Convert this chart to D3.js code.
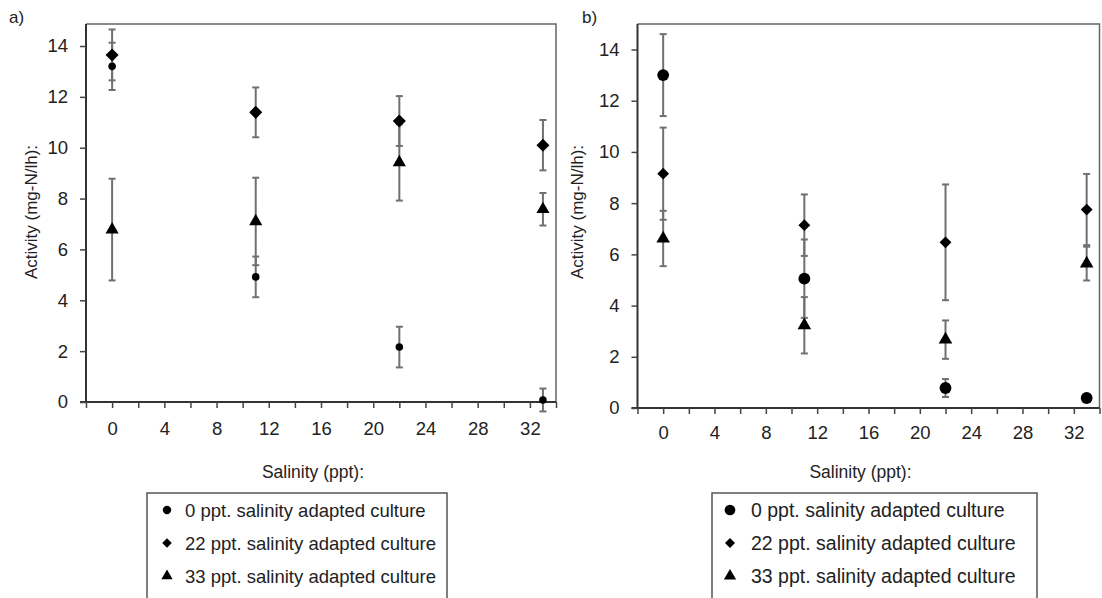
<!DOCTYPE html>
<html>
<head>
<meta charset="utf-8">
<script src="https://cdn.jsdelivr.net/npm/d3@7"></script>
<style>
  body { margin: 0; background: #fff; }
  svg { font-family: "Liberation Sans", Arial, Helvetica, sans-serif; }
</style>
</head>
<body>
<svg id="chart" width="1102" height="598"></svg>
<script>
// Nitrification activity vs salinity, two panels

const salinity = [0, 11, 22, 33];
const seriesNames = [
  "0 ppt. salinity adapted culture",
  "22 ppt. salinity adapted culture",
  "33 ppt. salinity adapted culture"];
const yTicks = [0, 2, 4, 6, 8, 10, 12, 14];

// panel a) means and error (+/-)
const aMean0 = [13.2, 4.92, 2.16, 0.08];
const aErr0 = [0.93, 0.8, 0.8, 0.45];
const aMean22 = [13.65, 11.39, 11.05, 10.1];
const aErr22 = [1.0, 0.98, 0.98, 0.99];
const aMean33 = [6.78, 7.1, 9.42, 7.58];
const aErr33 = [2.0, 1.72, 1.5, 0.64];

// panel b) means and error (+/-)
const bMean0 = [13.0, 5.05, 0.78, 0.39];
const bErr0 = [1.6, 1.53, 0.35, 0.1];
const bMean22 = [9.15, 7.14, 6.47, 7.75];
const bErr22 = [1.8, 1.2, 2.26, 1.39];
const bMean33 = [6.62, 3.23, 2.67, 5.64];
const bErr33 = [1.08, 1.1, 0.75, 0.66];

const svg = d3.select('#chart');

function makeSeries(means, errs) {
  return salinity.map((s, i) => ({x: s, y: means[i], e: errs[i]}));
}

function drawPanel(cfg, series) {
  let x = d3.scaleLinear().domain([-2, 34]).range([cfg.left, cfg.right]);
  let y = d3.scaleLinear().domain([0, 14]).range([cfg.bottom, cfg.y14]);
  let g = svg.append('g');

  // Frame (top and right edges)
  g.append('path')
    .attr('d', `M${cfg.left},${cfg.top}H${cfg.right}V${cfg.bottom}`)
    .attr('fill', 'none').attr('stroke', '#666').attr('stroke-width', 1.5);

  // Y axis
  let yAxis = d3.axisLeft(y).tickValues(yTicks).tickSize(6).tickPadding(12);
  let ya = g.append('g')
    .attr('transform', `translate(${cfg.left},0)`)
    .call(yAxis);
  ya.select('.domain').attr('d', `M-6,${cfg.bottom}H0V${cfg.top}`);

  // X axis, minor ticks every 2, labels every 4
  let xAxis = d3.axisBottom(x)
    .tickValues(d3.range(-2, 35, 2))
    .tickSize(6).tickPadding(cfg.xPad)
    .tickFormat(d => (d >= 0 && d % 4 === 0) ? d : '');
  let xa = g.append('g')
    .attr('transform', `translate(0,${cfg.bottom})`)
    .call(xAxis);
  xa.select('.domain').attr('d', `M${cfg.left},0H${cfg.right}`);

  [ya, xa].forEach(a => {
    a.selectAll('.domain').attr('stroke', '#333').attr('stroke-width', 2);
    a.selectAll('.tick line').attr('stroke', '#444').attr('stroke-width', 1.5);
    a.selectAll('text').attr('font-size', 18.5).attr('fill', '#222')
      .attr('font-family', '"Liberation Sans", Arial, sans-serif');
  });

  // Axis titles
  g.append('text')
    .attr('transform', `translate(${cfg.yTitleX},${cfg.yTitleY}) rotate(-90)`)
    .attr('text-anchor', 'middle').attr('font-size', 17).attr('fill', '#222')
    .text('Activity (mg-N/lh):');
  g.append('text')
    .attr('x', (cfg.left + cfg.right) / 2 - 8).attr('y', 478)
    .attr('text-anchor', 'middle').attr('font-size', 17.5).attr('fill', '#222')
    .text('Salinity (ppt):');
  g.append('text')
    .attr('x', cfg.labelX).attr('y', 23)
    .attr('font-size', 17).attr('fill', '#222')
    .text(cfg.label);

  // Error bars and markers
  series.forEach(s => {
    let eb = g.append('g').selectAll('.err').data(s.data).enter().append('g');
    eb.append('line')
      .attr('x1', d => x(d.x)).attr('x2', d => x(d.x))
      .attr('y1', d => y(d.y - d.e)).attr('y2', d => y(d.y + d.e));
    eb.append('line')
      .attr('x1', d => x(d.x) - 3.5).attr('x2', d => x(d.x) + 3.5)
      .attr('y1', d => y(d.y + d.e)).attr('y2', d => y(d.y + d.e));
    eb.append('line')
      .attr('x1', d => x(d.x) - 3.5).attr('x2', d => x(d.x) + 3.5)
      .attr('y1', d => y(d.y - d.e)).attr('y2', d => y(d.y - d.e));
    eb.selectAll('line').attr('stroke', '#707070').attr('stroke-width', 2);
  });
  series.forEach((s, k) => {
    g.selectAll(null).data(s.data).enter().append('path')
      .attr('d', cfg.symbols[k])
      .attr('transform', d => `translate(${x(d.x)},${y(d.y)})${k === 1 ? ' rotate(45)' : ''}`)
      .attr('fill', '#000');
  });

  // Legend
  let lg = g.append('g');
  lg.append('rect')
    .attr('x', cfg.legX).attr('y', 493)
    .attr('width', cfg.legW).attr('height', 130)
    .attr('fill', 'none').attr('stroke', '#555').attr('stroke-width', 1.5);
  seriesNames.forEach((name, k) => {
    let ry = 510 + k * 33;
    lg.append('path')
      .attr('d', cfg.legSymbols[k])
      .attr('transform', `translate(${cfg.legMarkX},${ry})${k === 1 ? ' rotate(45)' : ''}`)
      .attr('fill', '#000');
    lg.append('text')
      .attr('x', cfg.legTextX).attr('y', ry + 6.5)
      .attr('font-size', cfg.legFont).attr('fill', '#222')
      .text(name);
  });
}

function sym(type, size) {
  return d3.symbol().type(type).size(size)();
}

const panelA = {
  label: 'a)', labelX: 9,
  left: 86, right: 556, top: 24, bottom: 402, y14: 46, xPad: 14,
  yTitleX: 37, yTitleY: 212,
  symbols: [sym(d3.symbolCircle, 45), sym(d3.symbolSquare, 85), sym(d3.symbolTriangle, 75)],
  legSymbols: [sym(d3.symbolCircle, 55), sym(d3.symbolSquare, 45), sym(d3.symbolTriangle, 55)],
  legX: 147, legW: 300, legMarkX: 167, legTextX: 185, legFont: 18.5
};
const panelB = {
  label: 'b)', labelX: 582,
  left: 637.5, right: 1099.5, top: 24, bottom: 408, y14: 49.5, xPad: 12,
  yTitleX: 583, yTitleY: 212,
  symbols: [sym(d3.symbolCircle, 110), sym(d3.symbolSquare, 70), sym(d3.symbolTriangle, 80)],
  legSymbols: [sym(d3.symbolCircle, 90), sym(d3.symbolSquare, 50), sym(d3.symbolTriangle, 65)],
  legX: 712, legW: 325, legMarkX: 730, legTextX: 751, legFont: 19.5
};

drawPanel(panelA, [
  {data: makeSeries(aMean0, aErr0)},
  {data: makeSeries(aMean22, aErr22)},
  {data: makeSeries(aMean33, aErr33)}]);
drawPanel(panelB, [
  {data: makeSeries(bMean0, bErr0)},
  {data: makeSeries(bMean22, bErr22)},
  {data: makeSeries(bMean33, bErr33)}]);
</script>
</body>
</html>
